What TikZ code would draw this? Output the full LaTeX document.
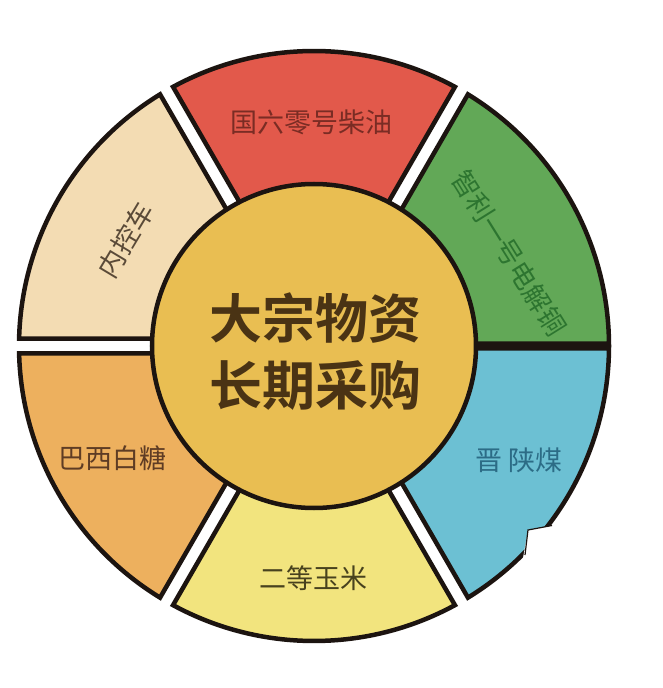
\documentclass[tikz,border=0pt]{standalone}
\usepackage{fontspec}
\newfontfamily\cjk{Noto Sans CJK SC}[BoldFont={Noto Sans CJK SC Bold}]
\definecolor{lineblack}{HTML}{1C1410}
\definecolor{secred}{HTML}{E2594B}
\definecolor{secgreen}{HTML}{62A857}
\definecolor{secblue}{HTML}{6CC0D3}
\definecolor{secyellow}{HTML}{F2E47E}
\definecolor{secorange}{HTML}{EDB05E}
\definecolor{secpale}{HTML}{F3DCB3}
\definecolor{hubgold}{HTML}{E9BE52}
\definecolor{txtred}{HTML}{7A2C24}
\definecolor{txtgreen}{HTML}{2D7530}
\definecolor{txtblue}{HTML}{2C6C86}
\definecolor{txtyellow}{HTML}{48421E}
\definecolor{txtorange}{HTML}{5E3C24}
\definecolor{txtpale}{HTML}{5A4A38}
\definecolor{txthub}{HTML}{4A3314}
\begin{document}
\begin{tikzpicture}[x=1pt,y=1pt,
    ring/.style={draw=lineblack, line width=4.5pt, line join=miter},
    lbl/.style={font=\cjk\fontsize{27}{30}\selectfont, inner sep=0pt},
    hubtxt/.style={font=\cjk\bfseries\fontsize{53}{58}\selectfont, text=txthub, inner sep=0pt}]

    % frame
    \fill[white] (-314,-342) rectangle (349,346);
    \useasboundingbox (-314,-342) rectangle (349,346);

    % sectors
    \foreach \a/\b/\da/\db/\col in {0/60/2.5/7.5/secgreen, 60/120/7.5/7.5/secred,
            120/180/7.5/7.5/secpale, 180/240/7.5/7.5/secorange,
            240/300/7.5/7.5/secyellow, 300/360/7.5/2.5/secblue}
        \draw[ring, fill=\col] ({\a+asin(\da/295)}:295pt)
            arc[start angle={\a+asin(\da/295)}, end angle={\b-asin(\db/295)}, radius=295pt]
            -- ({\b-asin(\db/150)}:150pt)
            arc[start angle={\b-asin(\db/150)}, end angle={\a+asin(\da/150)}, radius=150pt]
            -- cycle;

    % notch
    \fill[white] (214,-184) -- (252,-177) -- (245,-240) -- (209,-212) -- cycle;
    \draw[lineblack, line width=1.2pt] (238,-179.5) -- (214,-184) -- (211,-209);

    % hub
    \draw[ring, fill=hubgold] (0,0) circle[radius=162pt];
    \node[hubtxt] (hubtop) at (2,28) {大宗物资};
    \node[hubtxt] (hubbottom) at (2,-39) {长期采购};

    % labels
    \node[lbl, text=txtred] (diesel) at (-2,224) {国六零号柴油};
    \node[lbl, text=txtgreen, rotate=-58] (copper) at (195,93) {智利一号电解铜};
    \node[lbl, text=txtblue] (coal) at (205,-114) {晋 陕煤};
    \node[lbl, text=txtyellow] (corn) at (0,-232) {二等玉米};
    \node[lbl, text=txtorange] (sugar) at (-201,-112) {巴西白糖};
    \node[lbl, text=txtpale, rotate=59] (car) at (-188,106) {内控车};

\end{tikzpicture}
\end{document}
